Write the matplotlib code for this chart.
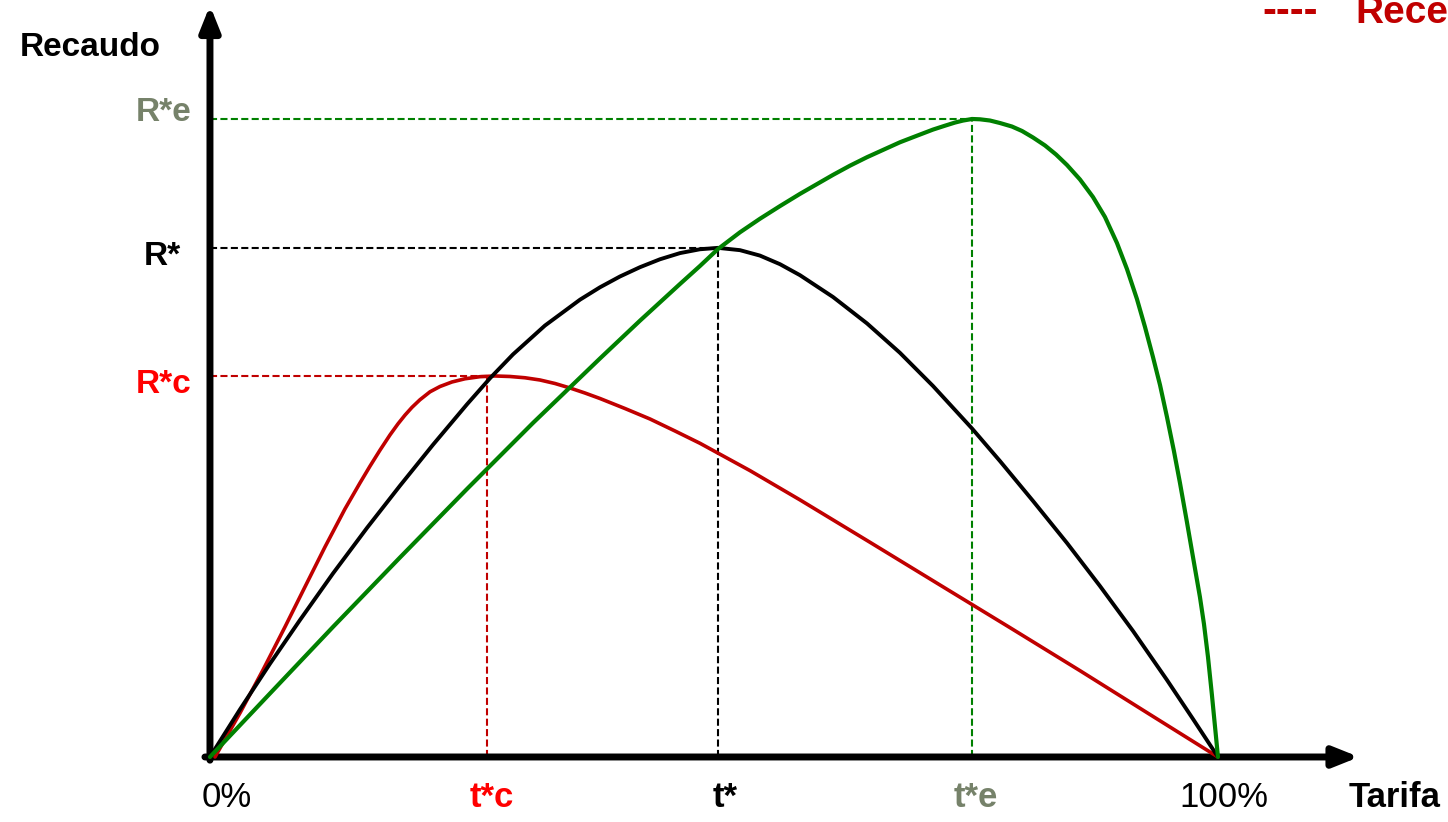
import matplotlib
matplotlib.use("Agg")
import matplotlib.pyplot as plt

# =============================================================================
# DATA  (tariff in %, revenue scaled so that R*e = 100)
# =============================================================================
# base Laffer curve (black)
T_BASE = [0, 2.98, 5.95, 8.93, 12.20, 15.58, 18.85, 22.12, 25.50, 27.78, 30.06,
          33.23, 36.71, 38.69, 40.67, 42.66, 44.64, 46.63, 48.61, 50.40, 52.58,
          54.56, 56.55, 58.53, 61.81, 65.18, 68.45, 71.73, 75.60, 78.37, 81.65,
          85.02, 88.29, 91.57, 94.94, 97.52, 100]
R_BASE = [0, 7.46, 14.61, 21.47, 28.76, 35.91, 42.52, 48.93, 55.28, 59.36, 63.10,
          67.62, 71.68, 73.62, 75.31, 76.77, 78.01, 78.98, 79.58, 79.80, 79.44,
          78.59, 77.24, 75.52, 72.10, 67.96, 63.35, 58.15, 51.49, 46.39, 40.13,
          33.54, 26.80, 19.75, 12.07, 5.96, 0]

# expansion curve (green)
T_EXP = [0, 5.95, 12.20, 18.85, 25.50, 32.04, 38.69, 42.66, 46.63, 48.61, 50.40,
         52.58, 54.56, 56.55, 58.53, 61.81, 63.49, 65.18, 66.87, 68.45, 70.14,
         71.73, 72.92, 73.91, 74.70, 75.60, 76.39, 77.38, 78.37, 79.56, 80.56,
         81.65, 82.84, 83.93, 85.02, 86.31, 87.60, 88.79, 89.98, 90.97, 91.96,
         92.76, 93.55, 94.25, 94.94, 95.63, 96.23, 96.92, 97.52, 98.21, 98.61,
         99.01, 99.40, 99.70, 100]
R_EXP = [0, 9.95, 20.38, 31.27, 42.01, 52.35, 62.46, 68.39, 74.14, 76.96, 79.62,
         82.24, 84.36, 86.35, 88.26, 91.24, 92.68, 94.01, 95.22, 96.35, 97.38,
         98.34, 98.95, 99.44, 99.75, 100.0, 99.95, 99.76, 99.37, 98.82, 98.12,
         97.10, 95.85, 94.44, 92.79, 90.52, 87.77, 84.64, 80.56, 76.49, 71.79,
         67.40, 62.70, 58.31, 53.29, 47.96, 42.95, 36.83, 31.35, 25.08, 20.85,
         15.67, 9.72, 4.86, 0]

# contraction curve (red)
T_CON = [0.50, 2.98, 5.26, 7.44, 9.42, 11.41, 13.39, 14.88, 15.87, 16.87, 17.86,
         18.65, 19.35, 20.04, 20.83, 21.83, 22.82, 24.01, 25.30, 26.79, 28.27,
         29.76, 31.25, 32.74, 34.23, 35.71, 37.20, 38.69, 41.17, 43.65, 46.13,
         48.61, 53.57, 58.53, 65.48, 72.42, 79.37, 86.31, 93.25, 100]
R_CON = [0, 6.90, 13.64, 20.38, 26.65, 32.92, 38.87, 42.95, 45.57, 48.10, 50.48,
         52.21, 53.59, 54.80, 55.99, 57.24, 58.07, 58.78, 59.28, 59.61, 59.72,
         59.64, 59.44, 59.09, 58.54, 57.84, 57.05, 56.19, 54.62, 52.98, 51.10,
         49.17, 44.89, 40.30, 33.65, 26.96, 20.27, 13.53, 6.66, 0]

# optimal points: (t*, R*) for contraction, base, expansion
T_OPT = [27.5, 50.4, 75.6]
R_OPT = [59.7, 79.8, 100.0]
R_LABELS = ["R*c", "R*", "R*e"]
X_LABELS = ["0%", "t*c", "t*", "t*e", "100%"]
X_LABEL_POS = [0, T_OPT[0], T_OPT[1], T_OPT[2], 100]

# =============================================================================
# STYLE
# =============================================================================
C_BLACK = "black"
C_GREEN = "#008000"
C_RED = "#C00000"
C_RED_TXT = "#FF0000"
C_GREEN_TXT = "#76826A"

ARIAL = ["Liberation Sans", "DejaVu Sans"]

fig = plt.figure(figsize=(14.48, 8.22), dpi=100)
ax = fig.add_axes([0, 0, 1, 1])
ax.set_xlim(-20.83, 122.82)
ax.set_ylim(-10.19, 118.65)
ax.axis("off")

# axes with arrows
arrow = dict(arrowstyle="-|>,head_length=0.75,head_width=0.3", lw=5,
             color="black", shrinkA=0, shrinkB=0, mutation_scale=20)
ax.annotate("", xy=(0, 117.8), xytext=(0, -0.5), arrowprops=arrow, zorder=2)
ax.annotate("", xy=(114.0, 0), xytext=(-0.5, 0), arrowprops=arrow, zorder=2)

# dashed guides to each optimum
dash = (0, (3.4, 1.6))
for t, r, c in zip(T_OPT, R_OPT, [C_RED, C_BLACK, C_GREEN]):
    ax.plot([0, t], [r, r], color=c, lw=1.5, ls=dash, zorder=1)
    ax.plot([t, t], [0, r], color=c, lw=1.5, ls=dash, zorder=1)

# curves
ax.plot(T_CON, R_CON, color=C_RED, lw=2.6, zorder=3, solid_capstyle="round",
        solid_joinstyle="round")
ax.plot(T_BASE, R_BASE, color=C_BLACK, lw=2.8, zorder=3, solid_capstyle="round",
        solid_joinstyle="round")
ax.plot(T_EXP, R_EXP, color=C_GREEN, lw=3.0, zorder=4, solid_capstyle="round",
        solid_joinstyle="round")

# labels on the revenue axis
r_offsets = [(-18, -17), (-29, -17), (-18, -2)]
for lab, r, c, off in zip(R_LABELS, R_OPT, [C_RED_TXT, C_BLACK, C_GREEN_TXT], r_offsets):
    ax.annotate(lab, xy=(0, r), xytext=off, textcoords="offset pixels",
                ha="right", va="baseline", color=c, fontsize=24,
                fontweight="bold", family=ARIAL)

ax.text(-18.85, 109.9, "Recaudo", ha="left", va="baseline", fontsize=24,
        fontweight="bold", family=ARIAL)

# labels on the tariff axis
x_colors = [C_BLACK, C_RED_TXT, C_BLACK, C_GREEN_TXT, C_BLACK]
x_weights = ["normal", "bold", "bold", "bold", "normal"]
x_dx = [17, 5, 7, 4, 6]
for lab, x, c, w, dx in zip(X_LABELS, X_LABEL_POS, x_colors, x_weights, x_dx):
    ax.annotate(lab, xy=(x, 0), xytext=(dx, -50), textcoords="offset pixels",
                ha="center", va="baseline", color=c, fontsize=25,
                fontweight=w, family=ARIAL)

ax.text(117.5, -7.84, "Tarifa", ha="center", va="baseline", fontsize=25,
        fontweight="bold", family=ARIAL)

# legend fragment running off the top right corner
ax.text(104.4, 115.0, "----", ha="left", va="baseline", fontsize=30,
        fontweight="bold", color=C_RED, family=ARIAL)
ax.text(113.6, 115.0, "Recesión", ha="left", va="baseline", fontsize=28,
        fontweight="bold", color=C_RED, family=ARIAL)

fig.savefig("out.png", dpi=100)
